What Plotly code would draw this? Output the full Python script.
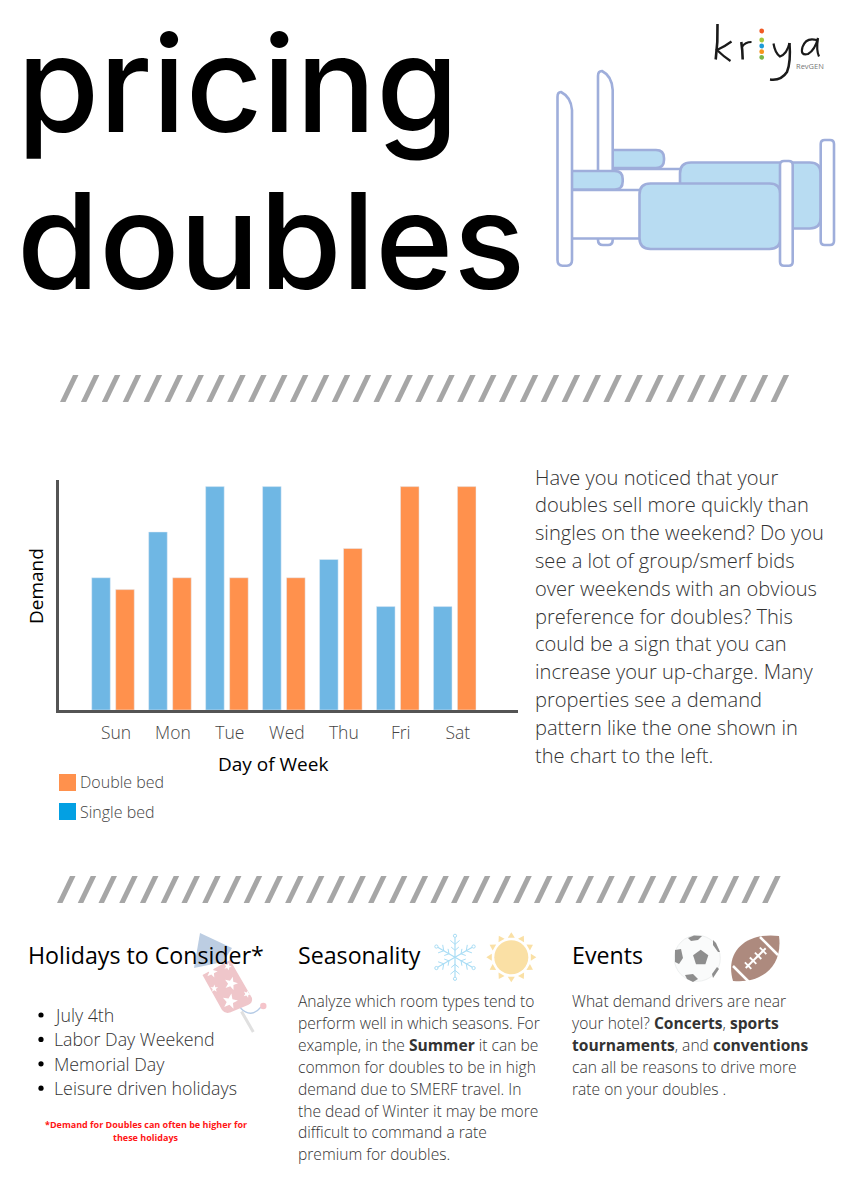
import math
import plotly.graph_objects as go

days = ['Sun', 'Mon', 'Tue', 'Wed', 'Thu', 'Fri', 'Sat']
single_bed = [59.2, 79.7, 100, 100, 67.4, 46.3, 46.3]
double_bed = [53.9, 59.2, 59.2, 59.2, 72.3, 100, 100]

paragraph = [
    'Have you noticed that your',
    'doubles sell more quickly than',
    'singles on the weekend? Do you',
    'see a lot of group/smerf bids',
    'over weekends with an obvious',
    'preference for doubles? This',
    'could be a sign that you can',
    'increase your up-charge. Many',
    'properties see a demand',
    'pattern like the one shown in',
    'the chart to the left.',
]
holidays = ['July 4th', 'Labor Day Weekend', 'Memorial Day', 'Leisure driven holidays']
holiday_note = ['*Demand for Doubles can often be higher for', 'these holidays']
seasonality = [
    'Analyze which room types tend to',
    'perform well in which seasons. For',
    'example, in the <b>Summer</b> it can be',
    'common for doubles to be in high',
    'demand due to SMERF travel. In',
    'the dead of Winter it may be more',
    'difficult to command a rate',
    'premium for doubles.',
]
events = [
    'What demand drivers are near',
    'your hotel? <b>Concerts</b>, <b>sports</b>',
    '<b>tournaments</b>, and <b>conventions</b>',
    'can all be reasons to drive more',
    'rate on your doubles .',
]

FONT = 'Open Sans'
BAR_BLUE = '#6FB7E4'
BAR_ORANGE = '#FF914D'
BED_LINE = '#9FAEDB'
BED_FILL = '#B8DCF2'

fig = go.Figure()
fig.add_trace(go.Bar(x=days, y=single_bed, name='Single bed', marker_color=BAR_BLUE, showlegend=False))
fig.add_trace(go.Bar(x=days, y=double_bed, name='Double bed', marker_color=BAR_ORANGE, showlegend=False))

shapes = []
texts = []


def text(x, y, s, size, color='#000000', weight=400, anchor='left', angle=0, family=FONT):
    # annotations keep a small padding, so left aligned text goes 2px back
    texts.append(dict(
        x=x - 2 if anchor == 'left' else x, y=y, xref='x2', yref='y2', text=s, showarrow=False,
        xanchor=anchor, yanchor='middle', textangle=angle,
        font=dict(family=family, size=size, color=color, weight=weight),
    ))


def path(d, fill='rgba(0,0,0,0)', line=None, width=0, opacity=1):
    shapes.append(dict(
        type='path', path=d, xref='x2', yref='y2', fillcolor=fill, opacity=opacity,
        line=dict(color=line or 'rgba(0,0,0,0)', width=width), layer='above',
    ))


def rrect(x0, y0, x1, y1, r, fill='#FFFFFF', line=BED_LINE, width=2.6):
    d = (f'M {x0 + r} {y0} L {x1 - r} {y0} Q {x1} {y0} {x1} {y0 + r} L {x1} {y1 - r} Q {x1} {y1} {x1 - r} {y1} '
         f'L {x0 + r} {y1} Q {x0} {y1} {x0} {y1 - r} L {x0} {y0 + r} Q {x0} {y0} {x0 + r} {y0} Z')
    path(d, fill, line, width)


def polygon(points, fill, opacity=1):
    d = 'M ' + ' L '.join(f'{x:.2f} {y:.2f}' for x, y in points) + ' Z'
    path(d, fill, opacity=opacity)


def star(cx, cy, r, rot=0, fill='#FFFFFF'):
    pts = []
    for i in range(10):
        rad = r if i % 2 == 0 else r * 0.42
        a = math.radians(rot - 90 + i * 36)
        pts.append((cx + rad * math.cos(a), cy + rad * math.sin(a)))
    polygon(pts, fill)


def regular(cx, cy, r, n, rot, fill):
    polygon([(cx + r * math.cos(math.radians(rot + i * 360 / n)),
              cy + r * math.sin(math.radians(rot + i * 360 / n))) for i in range(n)], fill)


def circle(cx, cy, r, fill, line=None, width=0, opacity=1):
    shapes.append(dict(
        type='circle', x0=cx - r, x1=cx + r, y0=cy - r, y1=cy + r, xref='x2', yref='y2',
        fillcolor=fill, opacity=opacity, line=dict(color=line or 'rgba(0,0,0,0)', width=width), layer='above',
    ))


def slashes(x_start, y_bottom, count, step):
    for i in range(count):
        x = x_start + i * step
        polygon([(x, y_bottom), (x + 5.5, y_bottom), (x + 18.5, y_bottom - 27), (x + 13, y_bottom - 27)], '#A6A6A6')


# title
text(17, 83.5, 'pricing', 133, weight=500, family='Inter')
text(17, 240.8, 'doubles', 133, weight=500, family='Inter')

# bed, back to front
rrect(605, 150, 664, 168, 8, BED_FILL)
path('M 598 76 Q 598 71 602 71 Q 612 76 612.7 90 L 612.7 240 Q 612.7 245 608 245 L 603 245 Q 598 245 598 240 Z',
     '#FFFFFF', BED_LINE, 2.6)
path('M 612 169 L 690 169', line=BED_LINE, width=2.6)
rrect(680, 162.5, 820.7, 228.5, 11, BED_FILL)
rrect(820.7, 140, 834, 245, 4)
rrect(570, 190, 650, 238.5, 0)
rrect(565, 171, 622.7, 189.5, 8, BED_FILL)
path('M 557.5 97 Q 557.5 92 561 92 Q 571 97 572 110 L 572 260 Q 572 265.7 567 265.7 L 562.5 265.7 '
     'Q 557.5 265.7 557.5 260 Z', '#FFFFFF', BED_LINE, 2.6)
rrect(639.5, 183.5, 780.5, 249, 11, BED_FILL)
rrect(780, 161, 792.7, 265.7, 4)

# logo
for d, w in [
    ('M 717.5 24 Q 718 42 715.7 59.5', 2.6),
    ('M 731.5 41.5 Q 724 47 717 50 Q 723 56 730.5 61', 2.2),
    ('M 741.3 42 Q 742.5 50 742.7 59.5', 2.6),
    ('M 742 47 Q 745 42 751.5 42', 2),
    ('M 773.5 43.5 Q 775 53 780 56.5 Q 787 54 789.5 43', 2.2),
    ('M 789.5 43 Q 791 62 787 72 Q 781 81 770 79.5', 2.5),
    ('M 816.5 40 Q 806 37 802.5 47 Q 800 56 808 54 Q 815 50 818 38 Q 816 50 819 56.5', 2.2),
]:
    path(d, line='#1A1A1A', width=w)
for dot_y, dot_color in [(31, '#F15A24'), (40, '#A5C83A'), (46, '#1E9BD7'), (51.7, '#F7941E'), (57.3, '#7AB648')]:
    circle(761.7, dot_y, 2.4, dot_color)
text(795.5, 65.5, 'RevGEN', 7.5, '#777777')

slashes(60, 402, 35, 20.9)
slashes(57, 903, 35, 20.74)

# paragraph to the right of the chart
for i, line in enumerate(paragraph):
    text(535, 477 + i * 27.8, line, 20.1, '#333333', 300)

# axis titles sit off centre, so they are placed on the page
text(273, 764, 'Day of Week', 19, anchor='center')
text(36, 586, 'Demand', 19, anchor='center', angle=-90)

# hand drawn legend, the swatches do not share the bar colours
shapes.append(dict(type='rect', x0=59, x1=76, y0=774, y1=791, xref='x2', yref='y2',
                   fillcolor=BAR_ORANGE, line_width=0, layer='above'))
shapes.append(dict(type='rect', x0=59, x1=76, y0=803, y1=820, xref='x2', yref='y2',
                   fillcolor='#03A0E3', line_width=0, layer='above'))
text(80, 782, 'Double bed', 16, '#444444', 300)
text(80, 811.5, 'Single bed', 16, '#444444', 300)

# rocket
path('M 202.5 975 L 230 960 L 252 998 Q 253 1003 248 1005 L 230 1012.5 Q 225 1014 222 1010 Z', '#EFC6CA')
polygon([(200, 933), (232, 948), (223, 962), (194, 968)], '#BCCDE2')
for sx, sy, sr, rot in [(211.7, 972, 6, 10), (227.7, 966.5, 4, 20), (231, 983.5, 7, 15),
                        (214.3, 988.5, 4, 0), (247, 994, 4, 20), (230, 1001.5, 8, 10)]:
    star(sx, sy, sr, rot)
path('M 241.5 1011.5 L 253.3 1032', line='#E0E0E0', width=3)
path('M 240.5 1008 Q 251 1019 261 1007', line='#B5CBE6', width=1.3)
circle(263.3, 1006, 3.2, '#F5C4CA')

# snowflake
FLAKE = '#A9DDF5'
for k in range(6):
    a = math.radians(k * 60 + 90)
    ca, sa = math.cos(a), math.sin(a)
    path(f'M 455 957.3 L {455 + 20 * ca:.2f} {957.3 + 20 * sa:.2f}', line=FLAKE, width=1.2)
    circle(455 + 21.5 * ca, 957.3 + 21.5 * sa, 1.6, '#FFFFFF', FLAKE, 1)
    for dist, arm in [(7, 5), (13, 6)]:
        for side in (-1, 1):
            b = a + side * math.radians(50)
            bx, by = 455 + dist * ca, 957.3 + dist * sa
            path(f'M {bx:.2f} {by:.2f} L {bx + arm * math.cos(b):.2f} {by + arm * math.sin(b):.2f}',
                 line=FLAKE, width=1)

# sun
SUN = '#FAE0A5'
circle(511.3, 957.3, 17, SUN)
for k in range(12):
    a = math.radians(k * 30 - 90)
    perp = a + math.pi / 2
    base_x, base_y = 511.3 + 19.5 * math.cos(a), 957.3 + 19.5 * math.sin(a)
    polygon([(base_x + 3.5 * math.cos(perp), base_y + 3.5 * math.sin(perp)),
             (base_x - 3.5 * math.cos(perp), base_y - 3.5 * math.sin(perp)),
             (511.3 + 25 * math.cos(a), 957.3 + 25 * math.sin(a))], SUN)

# soccer ball
circle(697.3, 958.3, 23, '#FAFBFB', '#EEF0F0', 1)
regular(700.7, 957.7, 8, 5, -90, '#8E8E8E')
polygon([(688, 938), (694, 935.6), (702, 936), (698, 940), (691, 941)], '#8E8E8E')
polygon([(675, 950), (681, 949), (683, 958), (679, 964), (675, 962)], '#8E8E8E')
polygon([(685, 975), (693, 974), (698, 979), (693, 982), (687, 979)], '#8E8E8E')
polygon([(712, 974), (717, 967), (719, 969), (713, 978)], '#8E8E8E')
polygon([(713, 940), (716, 943), (720, 952), (718, 952), (713, 945)], '#8E8E8E')

# american football
path('M 733 981 C 724 950 748 932 779 936 C 783 966 762 984 733 981 Z', '#AD8A7E')
path('M 760 937 L 778 955', line='#FFFFFF', width=2.5)
path('M 733 966 L 750 983', line='#FFFFFF', width=2.5)
path('M 745.7 968 L 765.7 948.3', line='#FFFFFF', width=2)
for t in (0.12, 0.37, 0.62, 0.87):
    lx, ly = 745.7 + 20 * t, 968 - 19.7 * t
    path(f'M {lx - 3.2:.2f} {ly - 3.2:.2f} L {lx + 3.2:.2f} {ly + 3.2:.2f}', line='#FFFFFF', width=1.8)

# lower columns
text(28, 955, 'Holidays to Consider*', 23.2)
text(298, 955, 'Seasonality', 23.2)
text(572, 955, 'Events', 23.2)

for i, item in enumerate(holidays):
    row_y = 1015 + i * 24.4
    circle(41, row_y, 2.6, '#000000')
    text(54, row_y, item, 17.8, '#333333', 300)
for i, line in enumerate(holiday_note):
    text(146, 1124 + i * 13.3, line, 9, '#FF1616', 700, anchor='center')
for i, line in enumerate(seasonality):
    text(298, 1001 + i * 21.9, line, 15.6, '#333333', 300)
for i, line in enumerate(events):
    text(572, 1001 + i * 21.9, line, 15.6, '#333333', 300)

fig.update_layout(
    width=848, height=1200, margin=dict(l=0, r=0, t=0, b=0),
    paper_bgcolor='#FFFFFF', plot_bgcolor='rgba(0,0,0,0)',
    barmode='group', bargap=0.158, bargroupgap=0.225,
    showlegend=False, shapes=shapes, annotations=texts,
    xaxis=dict(
        domain=[58.5 / 848, 518 / 848], range=[-0.957, 7.111], type='category', categoryorder='array',
        categoryarray=days, showgrid=False, zeroline=False, showline=True, linecolor='#545454', linewidth=3,
        ticks='', ticklabelstandoff=5, ticklabelshift=3,
        tickfont=dict(family=FONT, size=17.5, color='#444444', weight=300),
        anchor='y',
    ),
    yaxis=dict(
        domain=[(1200 - 710) / 1200, (1200 - 479.7) / 1200], range=[0, 103.1], showgrid=False, zeroline=False,
        showline=True, linecolor='#545454', linewidth=3, showticklabels=False, ticks='',
        anchor='x',
    ),
    # page sized overlay, one unit is one pixel
    xaxis2=dict(domain=[0, 1], range=[0, 848], visible=False, fixedrange=True, anchor='y2'),
    yaxis2=dict(domain=[0, 1], range=[1200, 0], visible=False, fixedrange=True, anchor='x2'),
)

fig.write_html('out.html', post_script="document.body.style.margin='0';", config={'displayModeBar': False})
